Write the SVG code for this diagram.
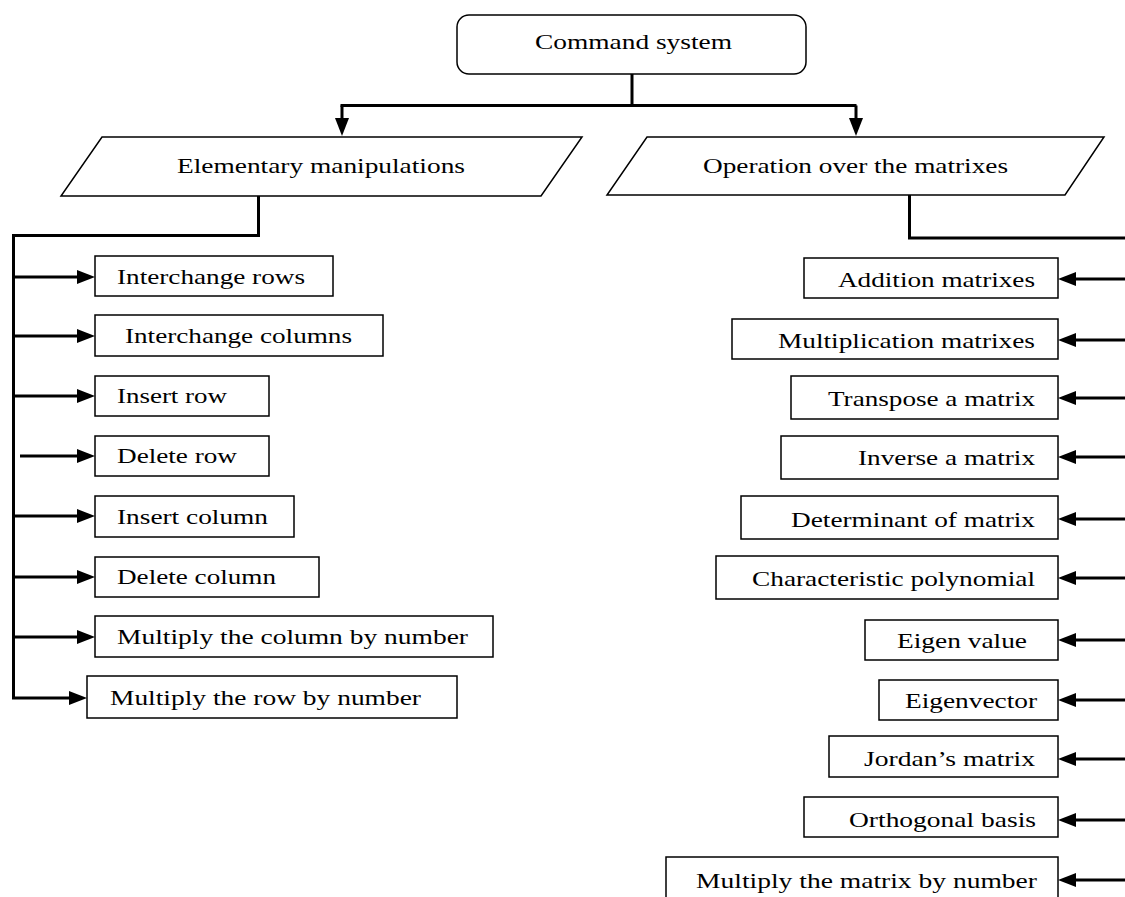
<svg xmlns="http://www.w3.org/2000/svg" width="1125" height="897" viewBox="0 0 1125 897">
<style>
.box{fill:#fff;stroke:#000;stroke-width:1.5}
.t{font-family:"Liberation Serif","Times New Roman",serif;font-size:22px;fill:#000}
.c{fill:none;stroke:#000;stroke-width:3}
.a{fill:none;stroke:#000;stroke-width:3;marker-end:url(#ah)}
</style>
<defs>
<marker id="ah" markerUnits="userSpaceOnUse" markerWidth="18" markerHeight="14" refX="10" refY="7" orient="auto">
<path d="M0,0 L18,7 L0,14 z" fill="#000"/>
</marker>
</defs>
<rect width="1125" height="897" fill="#fff"/>
<g id="connectors">
<path class="c" d="M632,74 V105.5"/>
<path class="c" d="M340.5,105.5 H856.5"/>
<path class="a" d="M342,105.5 V128"/>
<path class="a" d="M856,105.5 V128"/>
<path class="c" d="M258.5,196 V235.5 H13.5 V698"/>
<path class="a" d="M12,277 H87"/>
<path class="a" d="M12,336 H87"/>
<path class="a" d="M12,396 H87"/>
<path class="a" d="M20,456 H87"/>
<path class="a" d="M12,516 H87"/>
<path class="a" d="M12,577 H87"/>
<path class="a" d="M12,637 H87"/>
<path class="a" d="M12,698 H79"/>
<path class="c" d="M909.5,195 V238 H1125"/>
<path class="a" d="M1125,279 H1066"/>
<path class="a" d="M1125,340 H1066"/>
<path class="a" d="M1125,398 H1066"/>
<path class="a" d="M1125,457 H1066"/>
<path class="a" d="M1125,519 H1066"/>
<path class="a" d="M1125,578 H1066"/>
<path class="a" d="M1125,640 H1066"/>
<path class="a" d="M1125,700 H1066"/>
<path class="a" d="M1125,759 H1066"/>
<path class="a" d="M1125,820 H1066"/>
<path class="a" d="M1125,880 H1066"/>
</g>
<g id="command-system">
<rect class="box" x="457" y="15" width="349" height="59" rx="12"/>
<text class="t" x="535" y="49" textLength="197" lengthAdjust="spacingAndGlyphs">Command system</text>
</g>
<g id="elementary-manipulations">
<polygon class="box" points="102,137 582,137 541,196 61,196"/>
<text class="t" x="177" y="173" textLength="288" lengthAdjust="spacingAndGlyphs">Elementary manipulations</text>
</g>
<g id="operation-over-matrixes">
<polygon class="box" points="647,137 1104,137 1065,195 607,195"/>
<text class="t" x="703" y="173" textLength="305" lengthAdjust="spacingAndGlyphs">Operation over the matrixes</text>
</g>
<g id="interchange-rows"><rect class="box" x="95" y="256" width="238" height="40"/><text class="t" x="117" y="284" textLength="188" lengthAdjust="spacingAndGlyphs">Interchange rows</text></g>
<g id="interchange-columns"><rect class="box" x="95" y="315" width="288" height="41"/><text class="t" x="125" y="343" textLength="227" lengthAdjust="spacingAndGlyphs">Interchange columns</text></g>
<g id="insert-row"><rect class="box" x="95" y="376" width="174" height="40"/><text class="t" x="117" y="403" textLength="110" lengthAdjust="spacingAndGlyphs">Insert row</text></g>
<g id="delete-row"><rect class="box" x="95" y="436" width="174" height="40"/><text class="t" x="117" y="463" textLength="120" lengthAdjust="spacingAndGlyphs">Delete row</text></g>
<g id="insert-column"><rect class="box" x="95" y="496" width="199" height="41"/><text class="t" x="117" y="524" textLength="151" lengthAdjust="spacingAndGlyphs">Insert column</text></g>
<g id="delete-column"><rect class="box" x="95" y="557" width="224" height="40"/><text class="t" x="117" y="584" textLength="159" lengthAdjust="spacingAndGlyphs">Delete column</text></g>
<g id="multiply-column"><rect class="box" x="95" y="616" width="398" height="41"/><text class="t" x="117" y="644" textLength="351" lengthAdjust="spacingAndGlyphs">Multiply the column by number</text></g>
<g id="multiply-row"><rect class="box" x="87" y="676" width="370" height="42"/><text class="t" x="110" y="705" textLength="311" lengthAdjust="spacingAndGlyphs">Multiply the row by number</text></g>
<g id="addition-matrixes"><rect class="box" x="804" y="258" width="254" height="40"/><text class="t" x="838" y="287" textLength="197" lengthAdjust="spacingAndGlyphs">Addition matrixes</text></g>
<g id="multiplication-matrixes"><rect class="box" x="732" y="319" width="326" height="40"/><text class="t" x="778" y="348" textLength="257" lengthAdjust="spacingAndGlyphs">Multiplication matrixes</text></g>
<g id="transpose"><rect class="box" x="791" y="376" width="267" height="43"/><text class="t" x="828" y="406" textLength="207" lengthAdjust="spacingAndGlyphs">Transpose a matrix</text></g>
<g id="inverse"><rect class="box" x="781" y="436" width="277" height="43"/><text class="t" x="858" y="465" textLength="177" lengthAdjust="spacingAndGlyphs">Inverse a matrix</text></g>
<g id="determinant"><rect class="box" x="741" y="496" width="317" height="43"/><text class="t" x="791" y="527" textLength="244" lengthAdjust="spacingAndGlyphs">Determinant of matrix</text></g>
<g id="characteristic-polynomial"><rect class="box" x="716" y="556" width="342" height="43"/><text class="t" x="752" y="586" textLength="283" lengthAdjust="spacingAndGlyphs">Characteristic polynomial</text></g>
<g id="eigen-value"><rect class="box" x="865" y="620" width="193" height="40"/><text class="t" x="897" y="648" textLength="130" lengthAdjust="spacingAndGlyphs">Eigen value</text></g>
<g id="eigenvector"><rect class="box" x="879" y="680" width="179" height="40"/><text class="t" x="905" y="708" textLength="132" lengthAdjust="spacingAndGlyphs">Eigenvector</text></g>
<g id="jordan"><rect class="box" x="829" y="736" width="229" height="41"/><text class="t" x="864" y="766" textLength="171" lengthAdjust="spacingAndGlyphs">Jordan’s matrix</text></g>
<g id="orthogonal-basis"><rect class="box" x="804" y="797" width="254" height="40"/><text class="t" x="849" y="827" textLength="187" lengthAdjust="spacingAndGlyphs">Orthogonal basis</text></g>
<g id="multiply-matrix"><rect class="box" x="666" y="857" width="392" height="45"/><text class="t" x="696" y="888" textLength="341" lengthAdjust="spacingAndGlyphs">Multiply the matrix by number</text></g>
</svg>
